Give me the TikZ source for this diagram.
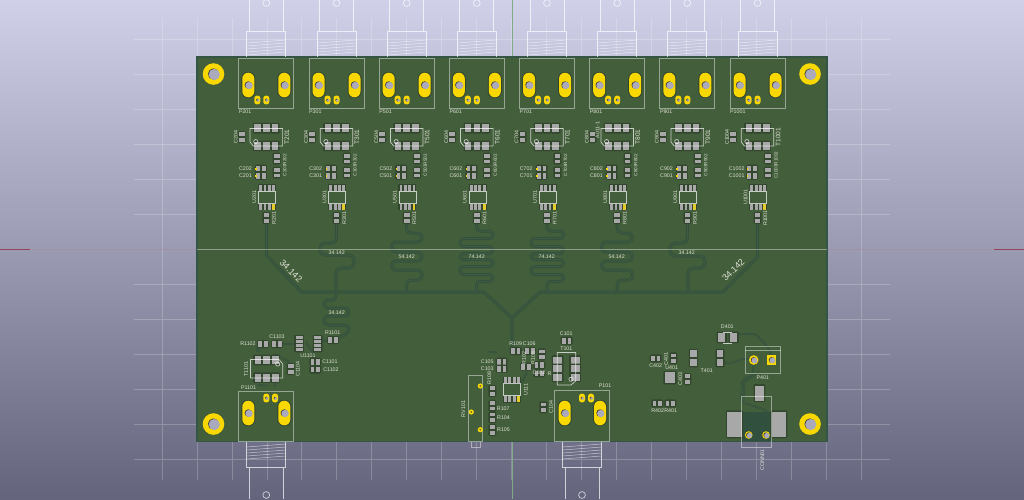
\documentclass[tikz,border=0pt]{standalone}
\usepackage{fontspec}
\setmainfont{Liberation Sans}
\usepackage{tikz}
\usetikzlibrary{calc}

\definecolor{skytop}{RGB}{208,208,232}
\definecolor{skybot}{RGB}{100,100,124}
\definecolor{boardgreen}{RGB}{67,94,58}
\definecolor{boardedge}{RGB}{52,84,68}
\definecolor{tracedark}{RGB}{50,80,62}
\definecolor{tracemid}{RGB}{64,92,62}
\definecolor{goldpad}{RGB}{248,216,0}
\definecolor{holegray}{RGB}{170,170,188}
\definecolor{smdgray}{RGB}{168,168,168}
\definecolor{maskdark}{RGB}{50,70,46}
\definecolor{silk}{RGB}{222,226,214}
\definecolor{axisred}{RGB}{150,70,90}
\definecolor{axismauve}{RGB}{165,145,165}
\definecolor{axisgreen}{RGB}{130,170,135}

\begin{document}
\begin{tikzpicture}[x=1pt,y=-1pt]
    \newcommand{\lab}[4][0]{\node[lbl,rotate=#1] (#4) at (#2,#3) {#4};}
    \newcommand{\hole}[3]{\fill[black!75] (#1,#2) circle[radius=#3]; \fill[holegray] (#1+0.8,#2+0.5) circle[radius=#3];}
    \newcommand{\capv}[2]{
      \fill[maskdark,rounded corners=1.5pt] (#1-4,#2-6) rectangle (#1+4,#2+6);
      \fill[smdgray] (#1-2.8,#2-4.7) rectangle (#1+2.8,#2-1);
      \fill[smdgray] (#1-2.8,#2+1) rectangle (#1+2.8,#2+4.7);
    }
    \newcommand{\caph}[2]{
      \fill[maskdark,rounded corners=1.5pt] (#1-6,#2-4) rectangle (#1+6,#2+4);
      \fill[smdgray] (#1-4.7,#2-2.8) rectangle (#1-1,#2+2.8);
      \fill[smdgray] (#1+1,#2-2.8) rectangle (#1+4.7,#2+2.8);
    }
    \newcommand{\smdpad}[4]{
      \fill[maskdark,rounded corners=1pt] (#1-#3/2-1.3,#2-#4/2-1.3) rectangle (#1+#3/2+1.3,#2+#4/2+1.3);
      \fill[smdgray] (#1-#3/2,#2-#4/2) rectangle (#1+#3/2,#2+#4/2);
    }
    \newcommand{\oblong}[2]{
      \fill[maskdark,rounded corners=6.5pt] (#1-7,#2-13) rectangle (#1+7,#2+13);
      \fill[goldpad,rounded corners=6pt] (#1-6,#2-12.3) rectangle (#1+6,#2+12.3);
      \hole{#1}{#2}{3.7}
    }
    \newcommand{\smallgold}[2]{
      \fill[goldpad,rounded corners=2.6pt] (#1-3,#2-4.4) rectangle (#1+3,#2+4.4);
      \hole{#1}{#2}{1.5}
    }
    \newcommand{\drill}[2]{\fill[goldpad] (#1,#2) circle[radius=10.8]; \hole{#1}{#2}{5.6}}
    \newcommand{\sot}[3]{
      \smdpad{#1-8.7}{#2-8.8}{6.6}{8}
      \smdpad{#1}{#2-8.8}{6.6}{8}
      \smdpad{#1+8.7}{#2-8.8}{6.6}{8}
      \smdpad{#1-8.7}{#2+8.8}{6.6}{8}
      \smdpad{#1}{#2+8.8}{6.6}{8}
      \smdpad{#1+8.7}{#2+8.8}{6.6}{8}
    }
    \newcommand{\soic}[4]{
      \fill[maskdark] (#1-9,#2-13) rectangle (#1+9,#2-6);
      \fill[maskdark] (#1-9,#2+6) rectangle (#1+9,#2+13);
      \fill[smdgray] (#1-7.8,#2-12.5) rectangle (#1-5,#2-6.5);
      \fill[smdgray] (#1-3.4,#2-12.5) rectangle (#1-0.6,#2-6.5);
      \fill[smdgray] (#1+0.9,#2-12.5) rectangle (#1+3.7,#2-6.5);
      \fill[smdgray] (#1+5.2,#2-12.5) rectangle (#1+8,#2-6.5);
      \fill[smdgray] (#1-7.8,#2+6.5) rectangle (#1-5,#2+12.5);
      \fill[smdgray] (#1-3.4,#2+6.5) rectangle (#1-0.6,#2+12.5);
      \fill[smdgray] (#1+0.9,#2+6.5) rectangle (#1+3.7,#2+12.5);
      \fill[goldpad!75!smdgray] (#1+5.2,#2+6.5) rectangle (#1+8,#2+12.5);
      \draw[outl] (#1-8.5,#2-6) rectangle (#1+8.5,#2+6);
      \node[lbl,rotate=90] (#3) at (#1+#4,#2) {#3};
    }
    % bnc body going up from the board
    \newcommand{\bnctop}[1]{
      \draw[outl] (#1-17,0) -- (#1-17,31) (#1+17,31) -- (#1+17,0);
      \draw[outl] (#1-19.5,57) -- (#1-19.5,31) -- (#1+19.5,31) -- (#1+19.5,57);
      \draw[outl] (#1,3) circle[radius=3.4];
      \draw[thread] (#1-19.5,43) -- (#1+19.5,40);
      \draw[thread] (#1-19.5,46) -- (#1+19.5,43);
      \draw[thread] (#1-19.5,49) -- (#1+19.5,46);
      \draw[thread] (#1-19.5,52) -- (#1+19.5,49);
      \draw[thread] (#1-19.5,55) -- (#1+19.5,52);
    }
    % bnc body going down from the board
    \newcommand{\bncbot}[1]{
      \draw[outl] (#1-17,499) -- (#1-17,467.5) (#1+17,467.5) -- (#1+17,499);
      \draw[outl] (#1-19.5,441) -- (#1-19.5,467.5) -- (#1+19.5,467.5) -- (#1+19.5,441);
      \draw[outl] (#1,495) circle[radius=3.4];
      \draw[thread] (#1-19.5,447) -- (#1+19.5,444);
      \draw[thread] (#1-19.5,450) -- (#1+19.5,447);
      \draw[thread] (#1-19.5,453) -- (#1+19.5,450);
      \draw[thread] (#1-19.5,456) -- (#1+19.5,453);
      \draw[thread] (#1-19.5,459) -- (#1+19.5,456);
    }
    \newcommand{\channel}[2]{
      \bnctop{#1}
      \draw[connbox] (#1-27.5,58) rectangle (#1+27.5,108);
      \oblong{#1-18}{85}
      \oblong{#1+18}{85}
      \smallgold{#1-9}{100}
      \smallgold{#1}{100}
      \node[lbl,anchor=west] (P#201) at (#1-27.5,111.5) {P#201};
      \capv{#1-24.6}{137}
      \node[lbl,rotate=90] (C#204) at (#1-30.5,137) {C#204};
      \sot{#1}{137}{}
      \draw[outl] (#1-16.3,128.5) -- (#1+16.3,128.5) -- (#1+16.3,146) -- (#1-13,146) -- (#1-16.3,142) -- cycle;
      \draw[outl] (#1-10.6,141.6) circle[radius=2.1];
      \node[lbl,rotate=90,font=\fontsize{6.5}{6.5}\selectfont] (T#201) at (#1+20.5,137) {T#201};
      \capv{#1+10.4}{158.5}
      \capv{#1+10.4}{172.5}
      \node[lbl,rotate=90,font=\fontsize{4.6}{4.6}\selectfont] (C#203R#202) at (#1+18.5,165) {C#203R#202};
      \caph{#1-5.5}{168.5}
      \caph{#1-5.5}{175.8}
      \fill[goldpad] (#1-11,167.5) rectangle (#1-9.5,169.5);
      \fill[goldpad] (#1-11,174.8) rectangle (#1-9.5,176.8);
      \node[lbl] (C#202) at (#1-20.8,168.3) {C#202};
      \node[lbl] (C#201) at (#1-20.8,175.8) {C#201};
      \soic{#1+0.7}{197}{U#201}{-12.7}
      \capv{#1}{218}
      \node[lbl,rotate=90] (R#201) at (#1+7.7,218) {R#201};
    }

    \tikzstyle{lbl}=[
      inner sep=0pt,
      text=silk,
      font=\fontsize{5.3}{5.3}\selectfont,
    ]
    \tikzstyle{outl}=[draw=white,opacity=0.7,line width=0.7pt]
    \tikzstyle{connbox}=[draw=white,opacity=0.45,line width=1pt]
    \tikzstyle{thread}=[draw=white,opacity=0.6,line width=0.5pt]
    \tikzstyle{trace}=[draw=tracedark,line width=1pt,double=tracemid,double distance=1pt,line join=round]
    \tikzstyle{thintrace}=[trace,line width=0.6pt,double distance=0.6pt]
    \tikzstyle{gridln}=[draw=white,opacity=0.22,line width=0.7pt]

    \path[use as bounding box,clip] (0,0) rectangle (1024,499);

    % background
    \fill[top color=skytop,bottom color=skybot] (0,0) rectangle (1024,499);
    \begin{scope}[shift={(162,39)}]
      \draw[gridln,xstep=34.95pt,ystep=35pt] (-28,-21) grid (728,441);
    \end{scope}
    \draw[line width=0.8pt,draw=axismauve] (30,249) -- (197,249) (827,249) -- (994,249);
    \draw[line width=0.8pt,draw=axisred] (0,249) -- (30,249) (994,249) -- (1024,249);
    \draw[line width=0.8pt,draw=axisgreen] (512,0) -- (512,57) (512,441) -- (512,499);

    \bncbot{266.3}
    \bncbot{582}

    % board
    \fill[boardgreen,draw=boardedge,line width=1.4pt] (197,57) rectangle (827,441.5);

    % traces
    {
      \draw[trace] (266.5,218) -- (266.5,255) -- (301.5,292) -- (484,292) -- (512,318) -- (512,345);
      \draw[trace] (757.5,218) -- (757.5,257) -- (723,292) -- (540,292) -- (512,318);
      \draw[trace,rounded corners=5pt] (336.5,222) -- (336.5,243) -- (320,243) -- (320,255) -- (354,255) -- (354,268) -- (336,268) -- (336,292);
      \draw[trace,rounded corners=4.5pt] (406.5,222) -- (406.5,233) -- (422,233) -- (422,242) -- (391.5,242) -- (391.5,252) -- (422,252) -- (422,261) -- (391.5,261) -- (391.5,270) -- (422,270) -- (422,280) -- (406.5,280) -- (406.5,292);
      \draw[trace,rounded corners=3.5pt] (476.5,222) -- (476.5,231) -- (493,231) -- (493,238.5) -- (460,238.5) -- (460,246.5) -- (493,246.5) -- (493,253.5) -- (460,253.5) -- (460,259.5) -- (493,259.5) -- (493,266.5) -- (460,266.5) -- (460,274.5) -- (493,274.5) -- (493,281.5) -- (476.5,281.5) -- (476.5,292);
      \draw[trace,rounded corners=3.5pt] (547,222) -- (547,231) -- (563.5,231) -- (563.5,238.5) -- (531,238.5) -- (531,246.5) -- (563.5,246.5) -- (563.5,253.5) -- (531,253.5) -- (531,259.5) -- (563.5,259.5) -- (563.5,266.5) -- (531,266.5) -- (531,274.5) -- (563.5,274.5) -- (563.5,281.5) -- (547,281.5) -- (547,292);
      \draw[trace,rounded corners=4.5pt] (617.2,222) -- (617.2,233) -- (632.5,233) -- (632.5,242) -- (601.5,242) -- (601.5,252) -- (632.5,252) -- (632.5,261) -- (601.5,261) -- (601.5,270) -- (632.5,270) -- (632.5,280) -- (617.2,280) -- (617.2,292);
      \draw[trace,rounded corners=5pt] (687.3,222) -- (687.3,243) -- (670,243) -- (670,256) -- (705,256) -- (705,268) -- (688,268) -- (688,292);
      \draw[trace,rounded corners=4pt] (336,292) -- (336,300) -- (324,300) -- (324,308) -- (349,308) -- (349,316) -- (324,316) -- (324,325) -- (349,325) -- (349,333) -- (333,340);
      \draw[trace,rounded corners=2pt] (258,352) -- (258,346) -- (263,344);
      \draw[thintrace,rounded corners=2pt] (277,344) -- (299,344) (318,342) -- (333,340) (306,342) -- (315,356) -- (315,362) (275,354) -- (290,362);
      \draw[thintrace,rounded corners=2pt] (257.7,385) -- (266.5,385.7) (275,382) -- (275,386);
      \draw[thintrace,rounded corners=3pt] (738,334) -- (756,334) -- (770,350) -- (771.7,360);
      \draw[thintrace,rounded corners=3pt] (724,362.7) -- (735,362.7) -- (740,359) -- (753.7,359);
      \draw[thintrace,rounded corners=3pt] (753.7,362) -- (753,374) -- (742,380) -- (741,402) -- (766,410) -- (770,416) -- (766,435);
      \draw[thintrace,rounded corners=3pt] (759,372) -- (744,382) -- (744,398);
      \draw[thintrace,rounded corners=2pt] (512,345) -- (512,351) (520,386) -- (527,372) (489,352) -- (497,352);
    }

    % corner holes
    {
      \drill{213.5}{74}
      \drill{810}{74}
      \drill{213.5}{424}
      \drill{810}{424}
    }

    % channels
    {
      \channel{266.3}{2}
      \channel{336.5}{3}
      \channel{406.7}{5}
      \channel{476.8}{6}
      \channel{547}{7}
      \channel{617.2}{8}
      \channel{687.3}{9}
      \channel{757.5}{10}
      \lab[90]{597.5}{130}{A011-1}
    }

    % meander lengths
    {
      \node[lbl] (len2) at (336.7,253) {34.142};
      \node[lbl] (len3) at (406.7,256.5) {54.142};
      \node[lbl] (len4) at (476.7,256.5) {74.142};
      \node[lbl] (len5) at (546.7,256.5) {74.142};
      \node[lbl] (len6) at (616.7,256.5) {54.142};
      \node[lbl] (len7) at (686.7,253) {34.142};
      \node[lbl] (len8) at (336.7,312.3) {34.142};
      \node[lbl,rotate=-45,font=\fontsize{9}{9}\selectfont] (lenl) at (291,270.7) {34.142};
      \node[lbl,rotate=45,font=\fontsize{9}{9}\selectfont] (lenr) at (733.3,270) {34.142};
    }

    % input connector and section below left
    {
      \draw[connbox] (238.8,391) rectangle (293.8,441);
      \oblong{248.3}{413}
      \oblong{284.3}{413}
      \smallgold{266.3}{398}
      \smallgold{275}{398}
      \lab{248.5}{388}{P1101}
      \caph{263}{344}
      \caph{277}{344}
      \lab{248}{344}{R1102}
      \lab{277}{336.7}{C1103}
      \smdpad{299}{337.7}{7}{2.8}
      \smdpad{299}{341.7}{7}{2.8}
      \smdpad{299}{345.7}{7}{2.8}
      \smdpad{299}{349.7}{7}{2.8}
      \smdpad{317.7}{337.7}{7}{2.8}
      \smdpad{317.7}{341.7}{7}{2.8}
      \smdpad{317.7}{345.7}{7}{2.8}
      \smdpad{317.7}{349.7}{7}{2.8}
      \lab{308}{355.7}{U1101}
      \caph{333}{340}
      \lab{332.7}{333}{R1101}
      \sot{266.5}{368.8}{}
      \draw[outl] (250.5,359.5) -- (279,359.5) -- (282.7,364) -- (282.7,378) -- (250.5,378) -- cycle;
      \draw[outl] (277.7,364) circle[radius=2.1];
      \lab[90]{246}{369}{T1101}
      \capv{290.7}{369}
      \lab[90]{297.7}{369}{C1104}
      \caph{315.3}{361.7}
      \caph{315.3}{369.5}
      \lab{330}{362}{C1101}
      \lab{331}{370}{C1102}
      \fill[black!70] (266.5,385.7) circle[radius=0.8];
      \fill[black!70] (275,385.7) circle[radius=0.8];
    }

    % centre section
    {
      \draw[connbox] (468.7,375.3) rectangle (482.7,441.5);
      \draw[connbox] (471,441.5) -- (471,447) -- (480.7,447) -- (480.7,441.5);
      \fill[goldpad] (480.3,386) circle[radius=2.6];
      \fill[goldpad] (471.3,412) circle[radius=2.6];
      \fill[goldpad] (480.3,429.7) circle[radius=2.6];
      \fill[black!70] (480.3,386) circle[radius=0.9];
      \fill[black!70] (471.3,412) circle[radius=0.9];
      \fill[black!70] (480.3,429.7) circle[radius=0.9];
      \lab[90]{463.3}{409}{RV101}
      \caph{501.7}{361.7}
      \caph{501.7}{368.7}
      \lab{487.3}{361.7}{C105}
      \lab{487.3}{368.7}{C103}
      \lab[90]{489.3}{378}{R108}
      \capv{492.3}{391}
      \capv{492.3}{405.7}
      \capv{492.3}{417.3}
      \capv{492.3}{430}
      \lab{503.3}{408.7}{R107}
      \lab{503.5}{418}{R104}
      \lab{503.5}{430}{R105}
      \soic{511.8}{389.5}{U111}{13.9}
      \capv{543.3}{407.3}
      \lab[90]{551}{407}{C104}
      \caph{515.7}{351}
      \caph{530}{351}
      \lab{515.7}{343.7}{R109}
      \lab{529.3}{344}{C106}
      \capv{541.7}{354.3}
      \caph{526}{366.7}
      \caph{539.3}{365}
      \caph{539.3}{373.3}
      \lab[90]{524}{357.7}{R102}
      \lab[90]{533}{357.7}{R106}
      \lab{539}{372.7}{C102}
      \lab{554}{373.3}{R103}
      \caph{566.7}{340.7}
      \lab{566.3}{333.3}{C101}
      \lab{566.3}{348.7}{T101}
      \smdpad{557.7}{360}{9}{7}
      \smdpad{557.7}{368.3}{9}{7}
      \smdpad{557.7}{377.3}{9}{7}
      \smdpad{575}{360}{9}{7}
      \smdpad{575}{368.3}{9}{7}
      \smdpad{575}{377.3}{9}{7}
      \draw[outl] (557.3,352.5) -- (575.7,352.5) -- (575.7,381) -- (571,385) -- (557.3,385) -- cycle;
      \draw[outl] (571,379.3) circle[radius=2.1];
      \draw[connbox] (554.8,390.5) rectangle (609.5,441);
      \oblong{564.7}{413}
      \oblong{600}{413}
      \smallgold{582}{398}
      \smallgold{591}{398}
      \lab{605}{386}{P101}
    }

    % power section
    {
      \smdpad{721.7}{337.3}{7.5}{9}
      \smdpad{733.7}{337.3}{7.5}{9}
      \draw[outl] (723,332) -- (732,332) (723,343.5) -- (732,343.5);
      \lab{727.3}{326.7}{D401}
      \smdpad{720}{353.7}{6.5}{6.5}
      \smdpad{720}{362.7}{6.5}{6.5}
      \smdpad{693.3}{353.7}{6.5}{6.5}
      \smdpad{693.3}{362.7}{6.5}{6.5}
      \lab{706.7}{370.7}{T401}
      \draw[connbox] (745,346.3) rectangle (780.7,373.3);
      \draw[connbox] (745,350) -- (780.7,350);
      \fill[goldpad] (753.7,360) circle[radius=4.8];
      \hole{753.7}{360}{2.9}
      \fill[goldpad] (767,355.3) rectangle (776.4,364.7);
      \hole{771.7}{360}{2.9}
      \lab{762.7}{377.7}{P401}
      \capv{673.3}{358.3}
      \lab[90]{666}{359}{C401}
      \caph{655.7}{358.3}
      \lab{655.7}{365.3}{C402}
      \lab{671.7}{367.3}{U401}
      \smdpad{670}{377.7}{10.5}{10.5}
      \capv{687.3}{379}
      \lab[90]{680.3}{379.3}{C403}
      \caph{657.3}{403.3}
      \caph{670.3}{403.3}
      \lab{657.7}{410.7}{R402}
      \lab{670.7}{410.7}{R401}
      \fill[tracedark] (741.7,411.7) rectangle (771.7,441);
      \smdpad{727.3+7.2}{424.2}{14.4}{25}
      \smdpad{771.7+7.2}{424.2}{14.4}{25}
      \smdpad{759.3}{393}{9}{15}
      \fill[goldpad] (748.7,435) circle[radius=3.8];
      \hole{748.7}{435}{2.6}
      \fill[goldpad] (766,435) circle[radius=3.8];
      \hole{766}{435}{2.6}
      \draw[connbox] (741.7,396.3) rectangle (771.7,447.3);
      \lab[90]{762.3}{460}{CONN01}
    }

    % axis line over the board
    \draw[line width=0.8pt,draw=white,opacity=0.4] (197,249) -- (827,249);
\end{tikzpicture}
\end{document}
